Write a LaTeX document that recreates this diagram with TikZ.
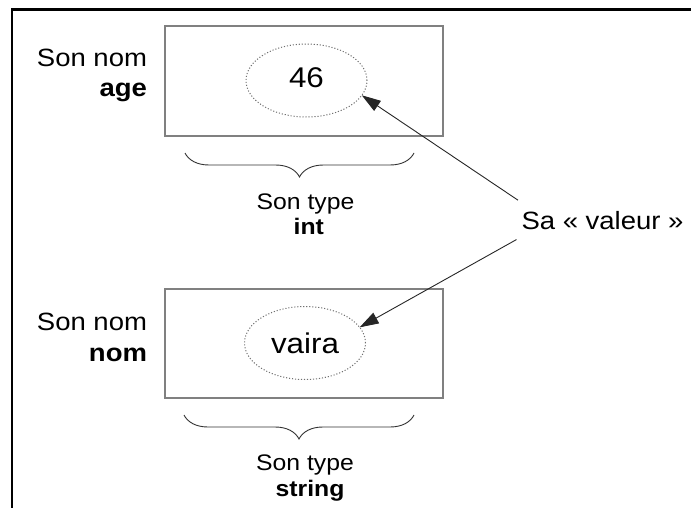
\documentclass[tikz,border=0pt]{standalone}
\usepackage{fontspec}
\setmainfont{Liberation Sans}[FakeStretch=1.1]
\usetikzlibrary{shapes.geometric,arrows.meta,decorations.pathreplacing}

\definecolor{boxgray}{HTML}{808080}
\definecolor{dotgray}{HTML}{707070}
\definecolor{bracegray}{HTML}{333333}

\begin{document}
\begin{tikzpicture}[x=1pt,y=-1pt,
  every node/.style={inner sep=0pt,outer sep=0pt},
  cell/.style={draw=boxgray,line width=1.3pt,anchor=north west,minimum width=278pt},
  valell/.style={ellipse,draw=dotgray,line width=1pt,dash pattern=on 1.1pt off 1.9pt,
    minimum width=121pt,minimum height=73pt,font=\fontsize{28.5}{34}\selectfont},
  namelbl/.style={anchor=base east,font=\fontsize{25}{30}\selectfont},
  keylbl/.style={anchor=base east,font=\fontsize{25}{30}\selectfont\bfseries},
  typelbl/.style={anchor=base,font=\fontsize{22.5}{27}\selectfont},
  typekey/.style={anchor=base,font=\fontsize{22.5}{27}\selectfont\bfseries},
  curly/.style={draw=bracegray,line width=0.9pt,decorate,decoration={brace,amplitude=24pt}},
  ptr/.style={draw=black!85,line width=0.9pt,-{Triangle[length=19pt,width=12pt]}}]

\useasboundingbox (0,0) rectangle (691,508);

% outer frame (top and left edges)
\draw[line width=2.5pt] (12.2,508) -- (12.2,9.3) -- (691,9.3);

% first variable
\node[cell,minimum height=110pt] (box1) at (165,26) {};
\node[valell,text height=21pt,text depth=6.6pt] (ell1) at (306.5,80.5) {46};
\node[namelbl] (name1) at (147,66.5) {Son nom};
\node[keylbl] (key1) at (147,96.7) {age};
\draw[curly] (414,153) -- (185,153);
\node[typelbl] (type1) at (305.5,209) {Son type};
\node[typekey] (tkey1) at (308.8,234) {int};

% second variable
\node[cell,minimum height=109pt] (box2) at (165,289) {};
\node[valell,text height=23pt,text depth=2.4pt] (ell2) at (305,343) {vaira};
\node[namelbl] (name2) at (147,330) {Son nom};
\node[keylbl] (key2) at (147,361.7) {nom};
\draw[curly] (414,415) -- (184,415);
\node[typelbl] (type2) at (305,470) {Son type};
\node[typekey] (tkey2) at (310,496) {string};

% value label and its pointers
\node[anchor=base west,font=\fontsize{25}{30}\selectfont] (val) at (521.5,229.3) {Sa « valeur »};
\draw[ptr] ([shift={(-3.5,-11)}]val.north west) -- (ell1.-15);
\draw[ptr] ([shift={(-5,10)}]val.south west) -- (ell2.16);

\end{tikzpicture}
\end{document}
